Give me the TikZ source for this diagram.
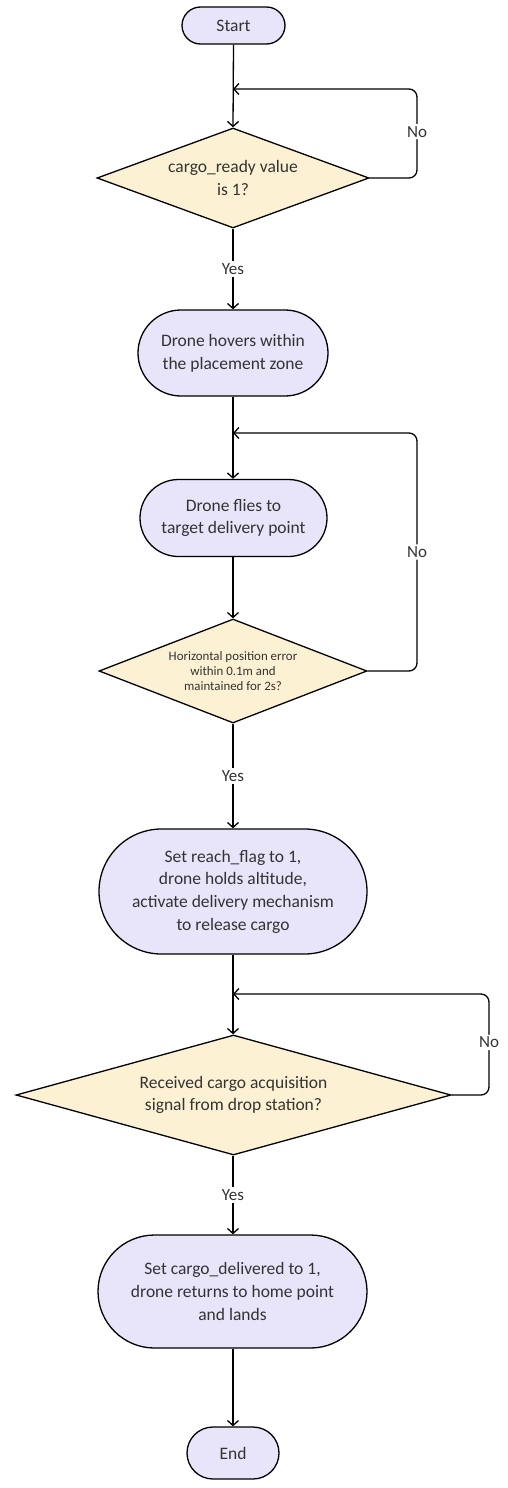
\documentclass[tikz,border=0pt]{standalone}
\usepackage{fontspec}
\setmainfont{Carlito}
\usetikzlibrary{shapes.geometric,shapes.misc,arrows.meta}
\definecolor{lav}{RGB}{232,228,249}
\definecolor{cream}{RGB}{252,241,210}
\definecolor{txt}{RGB}{51,51,51}
\begin{document}
\begin{tikzpicture}[x=1pt,y=-1pt,
  term/.style={rounded rectangle, draw=black, line width=1.3pt, fill=lav, text=txt, align=center, inner sep=0pt, font=\fontsize{17.5}{22.7}\selectfont},
  cond/.style={diamond, draw=black, line width=1.3pt, fill=cream, text=txt, align=center, inner sep=0pt, font=\fontsize{17.5}{22.7}\selectfont},
  arr/.style={draw=black, line width=1.3pt, -{Straight Barb[length=5pt,width=11pt]}},
  lbl/.style={fill=white, text=txt, inner sep=2pt, font=\fontsize{17}{20}\selectfont}]
\useasboundingbox (0,0) rectangle (508,1488);
\node[term, minimum width=103pt, minimum height=37pt] (start) at (233.5,25.5) {Start};
\node[cond, aspect=2.72, minimum width=272pt, minimum height=100pt] (d1) at (233,178) {cargo\_ready value\\is 1?};
\node[term, minimum width=190pt, minimum height=86pt] (n2) at (233,353) {Drone hovers within\\the placement zone};
\node[term, minimum width=187pt, minimum height=77pt] (n3) at (233.5,518) {Drone flies to\\target delivery point};
\node[cond, aspect=2.58, minimum width=268pt, minimum height=104pt, font=\fontsize{12.9}{15.2}\selectfont] (d2) at (233,671) {Horizontal position error\\within 0.1m and\\maintained for 2s?};
\node[term, minimum width=268pt, minimum height=125pt] (n4) at (233,891.5) {Set reach\_flag to 1,\\drone holds altitude,\\activate delivery mechanism\\to release cargo};
\node[cond, aspect=3.62, minimum width=435pt, minimum height=120pt] (d3) at (233.5,1095) {Received cargo acquisition\\signal from drop station?};
\node[term, minimum width=269pt, minimum height=113pt] (n5) at (232.5,1291.5) {Set cargo\_delivered to 1,\\drone returns to home point\\and lands};
\node[term, minimum width=92pt, minimum height=52pt] (end) at (233,1453) {End};
\coordinate (j1) at (233,89);
\coordinate (k1) at (417,89);
\coordinate (j2) at (233,433);
\coordinate (k2) at (417,433);
\coordinate (j3) at (233,994);
\coordinate (k3) at (489,994);
\draw[arr] (start.south) -- (d1.north);
\draw[arr, rounded corners=8pt] (d1.east) -| node[lbl, pos=0.76] {No} (k1) -- (j1);
\draw[arr] (d1.south) -- node[lbl] {Yes} (n2.north);
\draw[arr] (n2.south) -- (n3.north -| n2.south);
\draw[arr, rounded corners=8pt] (d2.east) -| node[lbl, pos=0.75] {No} (k2) -- (j2);
\draw[arr] (n3.south -| d2.north) -- (d2.north);
\draw[arr] (d2.south) -- node[lbl] {Yes} (n4.north);
\draw[arr] (n4.south) -- (d3.north -| n4.south);
\draw[arr, rounded corners=8pt] (d3.east) -| node[lbl, pos=0.76] {No} (k3) -- (j3);
\draw[arr] (d3.south -| n4.south) -- node[lbl] {Yes} (n5.north -| n4.south);
\draw[arr] (n5.south -| end.north) -- (end.north);
\end{tikzpicture}
\end{document}
